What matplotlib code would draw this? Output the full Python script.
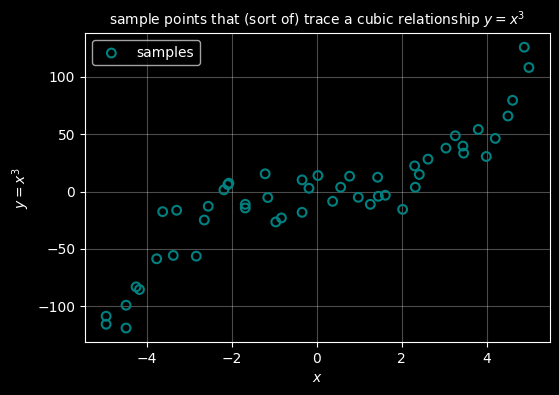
import matplotlib
matplotlib.use("Agg")
import matplotlib.pyplot as plt

x_vals = [-4.955, -4.955, -4.486, -4.486, -4.25, -4.17, -3.765, -3.624, -3.374, -3.295,
          -2.833, -2.645, -2.551, -2.183, -2.09, -2.066, -1.68, -1.68, -1.212, -1.15,
          -0.962, -0.829, -0.343, -0.343, -0.18, 0.03, 0.376, 0.565, 0.776, 0.98,
          1.263, 1.435, 1.451, 1.616, 2.024, 2.306, 2.322, 2.416, 2.62, 3.043,
          3.263, 3.443, 3.459, 3.804, 3.992, 4.204, 4.502, 4.612, 4.886, 4.996]
y_vals = [-108.7, -115.7, -119.0, -99.1, -83.1, -85.4, -58.6, -17.5, -55.7, -16.3,
          -56.3, -24.8, -12.8, 1.5, 6.1, 7.3, -11.1, -14.3, 15.5, -5.2,
          -26.5, -23.0, 10.2, -18.1, 2.9, 14.0, -8.5, 3.8, 13.4, -5.0,
          -11.1, 12.5, -4.1, -3.2, -15.5, 22.4, 3.8, 14.9, 28.3, 37.9,
          48.7, 39.7, 33.5, 54.2, 30.6, 46.4, 65.9, 79.6, 125.9, 108.2]

plt.style.use("dark_background")
fig, ax = plt.subplots(figsize=(5.59, 3.95), dpi=100)
fig.subplots_adjust(left=0.152, right=0.984, top=0.916, bottom=0.134)

ax.scatter(x_vals, y_vals, facecolors="none", edgecolors="teal", linewidths=1.5,
           s=40, label="samples")
ax.grid(True, color="white", alpha=0.3, linewidth=0.8)
ax.set_axisbelow(True)
ax.set_title("sample points that (sort of) trace a cubic relationship $y = x^3$", fontsize=10)
ax.set_xlabel("$x$")
ax.set_ylabel("$y = x^3$")
ax.legend(loc="upper left")

fig.savefig("out.png", dpi=100)
